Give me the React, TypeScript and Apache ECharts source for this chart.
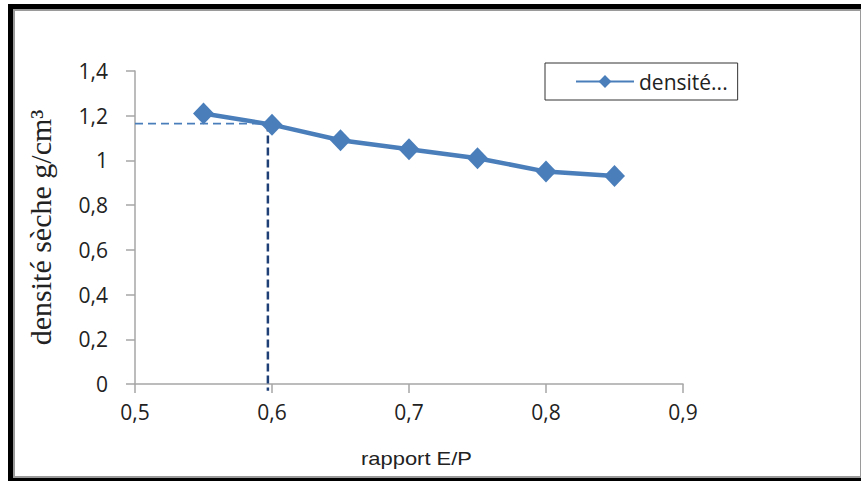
import React, { useEffect, useRef } from "react";
import * as echarts from "echarts";

const ratios = [0.55, 0.6, 0.65, 0.7, 0.75, 0.8, 0.85];
const densities = [1.21, 1.16, 1.09, 1.05, 1.01, 0.95, 0.93];
const guideX = 0.597;
const guideY = 1.165;
const guideBottom = -0.03;
const seriesName = "densité...";

const fmt = (v: number) => String(Math.round(v * 10) / 10).replace(".", ",");

export default function App() {
  const ref = useRef<HTMLDivElement>(null);
  useEffect(() => {
    document.body.style.margin = "0";
    const chart = echarts.init(ref.current!, undefined, { renderer: "svg" });
    const labelStyle = { formatter: fmt, fontSize: 21, color: "#222", fontFamily: "Open Sans, sans-serif" };
    chart.setOption({
      animation: false,
      backgroundColor: "#ffffff",
      graphic: [
        { type: "rect", shape: { x: 8, y: 4, width: 853, height: 477 }, style: { fill: "#000" }, z: -10 },
        { type: "rect", shape: { x: 14, y: 10, width: 847, height: 467 }, style: { fill: "#fff", stroke: "#9a9a9a", lineWidth: 2 }, z: -9 },
        {
          type: "text",
          x: 361,
          y: 450,
          scaleX: 1.22,
          style: { text: "rapport E/P", fontSize: 18, fontFamily: "Liberation Sans, sans-serif", fill: "#222" },
        },
      ],
      legend: {
        left: 545,
        top: 63,
        width: 203,
        height: 40,
        padding: [8, 10, 8, 30],
        borderColor: "#333",
        borderWidth: 1,
        itemWidth: 58,
        itemHeight: 16,
        itemGap: 4,
        data: [seriesName],
        textStyle: { fontSize: 21, fontFamily: "Open Sans, sans-serif", color: "#222" },
      },
      grid: { left: 135, right: 178, top: 71, bottom: 97 },
      xAxis: {
        type: "value",
        min: 0.5,
        max: 0.9,
        interval: 0.1,
        axisLine: { lineStyle: { color: "#a6a6a6", width: 1.5 } },
        axisTick: { show: true, length: 9, lineStyle: { color: "#a6a6a6", width: 1.5 } },
        splitLine: { show: false },
        axisLabel: { ...labelStyle, margin: 17 },
      },
      yAxis: {
        type: "value",
        min: 0,
        max: 1.4,
        interval: 0.2,
        name: "densité sèche g/cm³",
        nameLocation: "middle",
        nameGap: 80,
        nameTextStyle: { fontSize: 30, fontFamily: "Liberation Serif, serif", color: "#222" },
        axisLine: { show: true, lineStyle: { color: "#a6a6a6", width: 1.5 } },
        axisTick: { show: true, length: 9, lineStyle: { color: "#a6a6a6", width: 1.5 } },
        splitLine: { show: false },
        axisLabel: { ...labelStyle, margin: 27 },
      },
      series: [
        {
          name: "guideH",
          type: "line",
          data: [[0.5, guideY], [guideX, guideY]],
          symbol: "none",
          clip: false,
          lineStyle: { color: "#4a7ebb", width: 1.8, type: [8, 5] },
          z: 1,
        },
        {
          name: "guideV",
          type: "line",
          data: [[guideX, guideY], [guideX, guideBottom]],
          symbol: "none",
          clip: false,
          lineStyle: { color: "#1f3f77", width: 2.5, type: [8, 4] },
          z: 1,
        },
        {
          name: seriesName,
          type: "line",
          data: ratios.map((r, i) => [r, densities[i]]),
          symbol: "diamond",
          symbolSize: [21, 22],
          itemStyle: { color: "#4a7ebb" },
          lineStyle: { color: "#4a7ebb", width: 4.5 },
          z: 3,
        },
      ],
    });
    return () => chart.dispose();
  }, []);
  return <div ref={ref} style={{ width: 861, height: 481 }} />;
}
